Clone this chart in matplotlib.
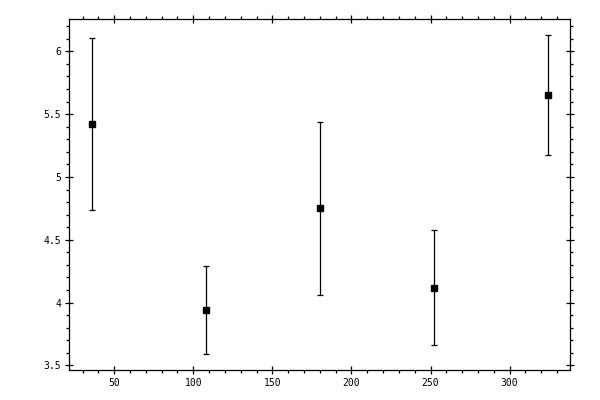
"""Error bar chart: five measurements with symmetric uncertainties."""
import matplotlib
matplotlib.use("Agg")
import matplotlib.pyplot as plt
from matplotlib.ticker import MultipleLocator, FormatStrFormatter

x_vals = [36, 108, 180, 252, 324]
y_vals = [5.42, 3.943, 4.749, 4.12, 5.65]
y_errs = [0.686, 0.352, 0.685, 0.457, 0.478]

x_limits = (21.6, 338.4)
y_limits = (3.464, 6.255)

fig = plt.figure(figsize=(6, 4), dpi=100)
ax = fig.add_axes([0.1155, 0.075, 0.835, 0.877])

ax.errorbar(x_vals, y_vals, yerr=y_errs, fmt="s", color="black",
            markersize=4.6, elinewidth=0.9, capsize=2.2, capthick=0.9)

ax.set_xlim(*x_limits)
ax.set_ylim(*y_limits)

ax.xaxis.set_major_locator(MultipleLocator(50))
ax.xaxis.set_minor_locator(MultipleLocator(10))
ax.yaxis.set_major_locator(MultipleLocator(0.5))
ax.yaxis.set_minor_locator(MultipleLocator(0.1))
ax.yaxis.set_major_formatter(FormatStrFormatter("%g"))

for spine in ax.spines.values():
    spine.set_linewidth(0.9)

ax.tick_params(which="major", direction="inout", length=5.8, width=0.9,
               top=True, right=True, labelsize=7, pad=3)
ax.tick_params(which="minor", direction="out", length=2.2, width=0.9,
               top=True, right=True)
for lab in ax.get_xticklabels() + ax.get_yticklabels():
    lab.set_family("DejaVu Sans Mono")

fig.savefig("out.png", dpi=100)
plt.close(fig)
